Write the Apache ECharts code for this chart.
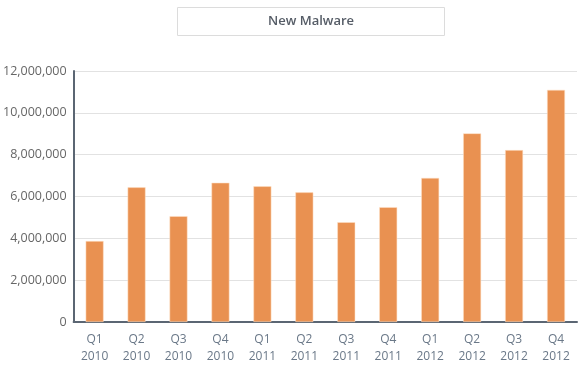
<!DOCTYPE html>
<html>
<head>
<meta charset="utf-8">
<script src="https://cdn.jsdelivr.net/npm/echarts@6/dist/echarts.min.js"></script>
<style>html,body{margin:0;padding:0;background:#fff}#c{width:578px;height:369px}</style>
</head>
<body>
<div id="c"></div>
<script>
const quarters = ["Q1","Q2","Q3","Q4","Q1","Q2","Q3","Q4","Q1","Q2","Q3","Q4"];
const years = ["2010","2010","2010","2010","2011","2011","2011","2011","2012","2012","2012","2012"];
const newMalware = [3870000, 6440000, 5060000, 6660000, 6490000, 6200000, 4770000, 5490000, 6890000, 9020000, 8220000, 11100000];
const yTicks = [0, 2000000, 4000000, 6000000, 8000000, 10000000, 12000000];
const titleText = "New Malware";

const categories = quarters.map((q, i) => q + "\n" + years[i]);
const chart = echarts.init(document.getElementById('c'), null, {renderer: 'canvas'});
chart.setOption({
  animation: false,
  textStyle: {fontFamily: "Open Sans"},
  title: {
    text: titleText,
    left: 177, top: 7,
    padding: [8, 91, 8, 91],
    borderWidth: 1, borderColor: '#dcdcdc',
    textStyle: {fontSize: 13, fontWeight: 600, color: '#555c66', fontFamily: "Open Sans"}
  },
  grid: {left: 73, right: 1, top: 71, bottom: 47, containLabel: false},
  xAxis: {
    type: 'category',
    data: categories,
    axisLine: {lineStyle: {color: '#5b6673', width: 2}},
    axisTick: {show: false},
    axisLabel: {color: '#6a7888', fontSize: 12, lineHeight: 17, margin: 9, interval: 0}
  },
  yAxis: {
    type: 'value',
    min: yTicks[0], max: yTicks[yTicks.length - 1], interval: yTicks[1] - yTicks[0],
    axisLine: {show: true, lineStyle: {color: '#5b6673', width: 2}},
    axisTick: {show: false},
    splitLine: {lineStyle: {color: '#e2e2e2', width: 1}},
    axisLabel: {color: '#666', fontSize: 12.5, margin: 7,
      formatter: v => v.toLocaleString('en-US')}
  },
  series: [{
    type: 'bar',
    data: newMalware,
    barWidth: 18,
    itemStyle: {color: '#e99151', borderColor: 'rgba(255,225,200,0.9)', borderWidth: 0.6}
  }]
});
</script>
</body>
</html>
